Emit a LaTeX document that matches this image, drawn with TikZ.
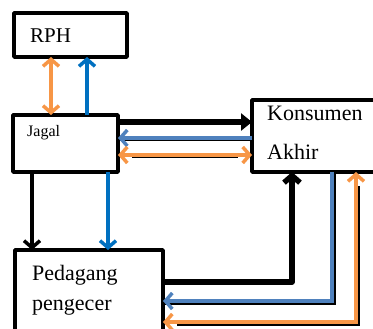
\documentclass[tikz,border=0pt]{standalone}
\usepackage{fontspec}
\setmainfont{Liberation Serif}
\usetikzlibrary{arrows.meta}
\definecolor{orng}{HTML}{F79646}
\definecolor{blu}{HTML}{0070C0}
\definecolor{sblu}{HTML}{4F81BD}
\tikzset{
  box/.style={draw=black, line width=3.5pt, line cap=round, line join=round, inner sep=0pt, outer sep=0pt},
  lbl/.style={anchor=base west, inner sep=0pt},
  barb/.style={-{Straight Barb[length=7pt,width=16pt]}},
  dbarb/.style={{Straight Barb[length=7pt,width=16pt]}-{Straight Barb[length=7pt,width=16pt]}},
  conn/.style={line width=3.5pt},
  shadow/.style={draw=black, line width=2pt},
}
\begin{document}
\begin{tikzpicture}[x=1pt,y=-1pt]
\useasboundingbox (0,0) rectangle (373,329);
\clip (0,0) rectangle (373,329);
% boxes
\node[box, minimum width=113pt, minimum height=44pt] (rph) at (70.5,35) {};
\node[box, minimum width=105pt, minimum height=57pt] (jagal) at (65.5,143.5) {};
\node[box, minimum width=150pt, minimum height=72pt] (kons) at (327,136) {};
\node[box, minimum width=148pt, minimum height=100pt] (ped) at (89,300) {};
% labels
\node[lbl, font=\fontsize{21pt}{21pt}\selectfont] (trph) at (30,43) {RPH};
\node[lbl, font=\fontsize{16pt}{16pt}\selectfont] (tjag) at (27,137) {Jagal};
\node[lbl, font=\fontsize{22pt}{22pt}\selectfont] (tk1) at (267,121) {Konsumen};
\node[lbl, font=\fontsize{22pt}{22pt}\selectfont] (tk2) at (267,160) {Akhir};
\node[lbl, font=\fontsize{22pt}{22pt}\selectfont] (tp1) at (32,280) {Pedagang};
\node[lbl, font=\fontsize{22pt}{22pt}\selectfont] (tp2) at (32,310) {pengecer};
% helper coordinates
\coordinate (xa) at (51,0);
\coordinate (xb) at (87,0);
\coordinate (xc) at (32,0);
\coordinate (xd) at (108,0);
\coordinate (xe) at (292,0);
\coordinate (xf) at (332,0);
\coordinate (xg) at (356,0);
\coordinate (xfs) at (334.5,0);
\coordinate (xgs) at (358.5,0);
\coordinate (ya) at (0,122);
\coordinate (yb) at (0,138);
\coordinate (ybs) at (0,140.5);
\coordinate (yc) at (0,155);
\coordinate (ycs) at (0,157.5);
\coordinate (yd) at (0,282);
\coordinate (ye) at (0,301);
\coordinate (yes) at (0,303.5);
\coordinate (yf) at (0,322);
\coordinate (yfs) at (0,324.5);
% RPH - Jagal
\draw[conn, orng, dbarb] (jagal.north -| xa) -- (rph.south -| xa);
\draw[conn, blu, barb] (jagal.north -| xb) -- (rph.south -| xb);
% Jagal - Konsumen
\draw[line width=6.5pt, -{Triangle[length=11pt,width=17pt]}] (jagal.east |- ya) -- (kons.west |- ya);
\draw[shadow] (jagal.east |- ybs) -- (kons.west |- ybs);
\draw[conn, sblu, barb] (kons.west |- yb) -- (jagal.east |- yb);
\draw[shadow, shorten <=14pt, shorten >=14pt] (jagal.east |- ycs) -- (kons.west |- ycs);
\draw[conn, orng, dbarb] (jagal.east |- yc) -- (kons.west |- yc);
% Jagal - Pedagang
\draw[conn, black, barb] (jagal.south -| xc) -- (ped.north -| xc);
\draw[conn, blu, barb] (jagal.south -| xd) -- (ped.north -| xd);
% Pedagang - Konsumen
\draw[line width=5.5pt, line join=round, barb] (ped.east |- yd) -| (kons.south -| xe);
\draw[shadow] (kons.south -| xfs) |- (ped.east |- yes);
\draw[conn, sblu, barb] (kons.south -| xf) |- (ped.east |- ye);
\draw[shadow, shorten <=14pt, shorten >=14pt] (ped.east |- yfs) -| (kons.south -| xgs);
\draw[conn, orng, dbarb] (ped.east |- yf) -| (kons.south -| xg);
\end{tikzpicture}
\end{document}
